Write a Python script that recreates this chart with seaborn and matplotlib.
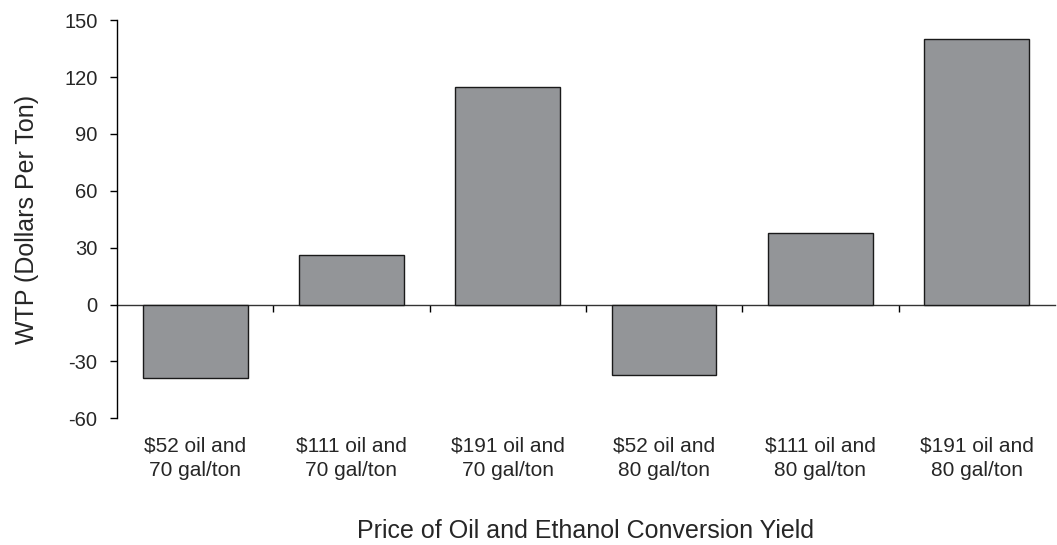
import matplotlib
matplotlib.use("Agg")
import matplotlib.pyplot as plt
import seaborn as sns
import pandas as pd
import numpy as np

categories = ["$52 oil and\n70 gal/ton", "$111 oil and\n70 gal/ton", "$191 oil and\n70 gal/ton",
              "$52 oil and\n80 gal/ton", "$111 oil and\n80 gal/ton", "$191 oil and\n80 gal/ton"]
wtp = [-39, 26, 115, -37, 38, 140]
yticks = [-60, -30, 0, 30, 60, 90, 120, 150]

sns.set_style("white")
plt.rcParams['font.family'] = ['Liberation Sans', 'DejaVu Sans']

df = pd.DataFrame({"cat": categories, "wtp": wtp})

fig = plt.figure(figsize=(10.57, 5.45), dpi=100)
ax = fig.add_axes([0.1107, 0.2325, 0.8873, 0.7303])

sns.barplot(data=df, x="cat", y="wtp", color="#939598", saturation=1, width=0.67,
            edgecolor="#1a1a1a", linewidth=1.0, ax=ax)

ax.set_ylim(-60, 150)
ax.set_xlim(-0.5, len(categories) - 0.5)
ax.set_yticks(yticks)
ax.set_yticklabels([str(v) for v in yticks], fontsize=14.5)
ax.tick_params(axis='y', direction='out', length=5, width=1, color='black', left=True, pad=9)
ax.tick_params(axis='x', length=0, pad=13, labelsize=15)
for lab in ax.get_xticklabels():
    lab.set_linespacing(1.4)

for s in ["top", "right", "bottom"]:
    ax.spines[s].set_visible(False)
ax.spines["left"].set_color("black")
ax.spines["left"].set_linewidth(1)

# zero axis line with boundary ticks
sec = ax.secondary_xaxis(0, transform=ax.transData)
sec.spines["bottom"].set_color("#333333")
sec.spines["bottom"].set_linewidth(1)
sec.set_xticks(np.arange(0.5, len(categories) - 0.5, 1.0))
sec.set_xticklabels([])
sec.tick_params(axis='x', direction='out', length=5, width=1, color='black')

ax.set_xlabel("Price of Oil and Ethanol Conversion Yield", fontsize=18, labelpad=28)
ax.set_ylabel("WTP (Dollars Per Ton)", fontsize=18, labelpad=18)

fig.savefig("out.png", dpi=100)
